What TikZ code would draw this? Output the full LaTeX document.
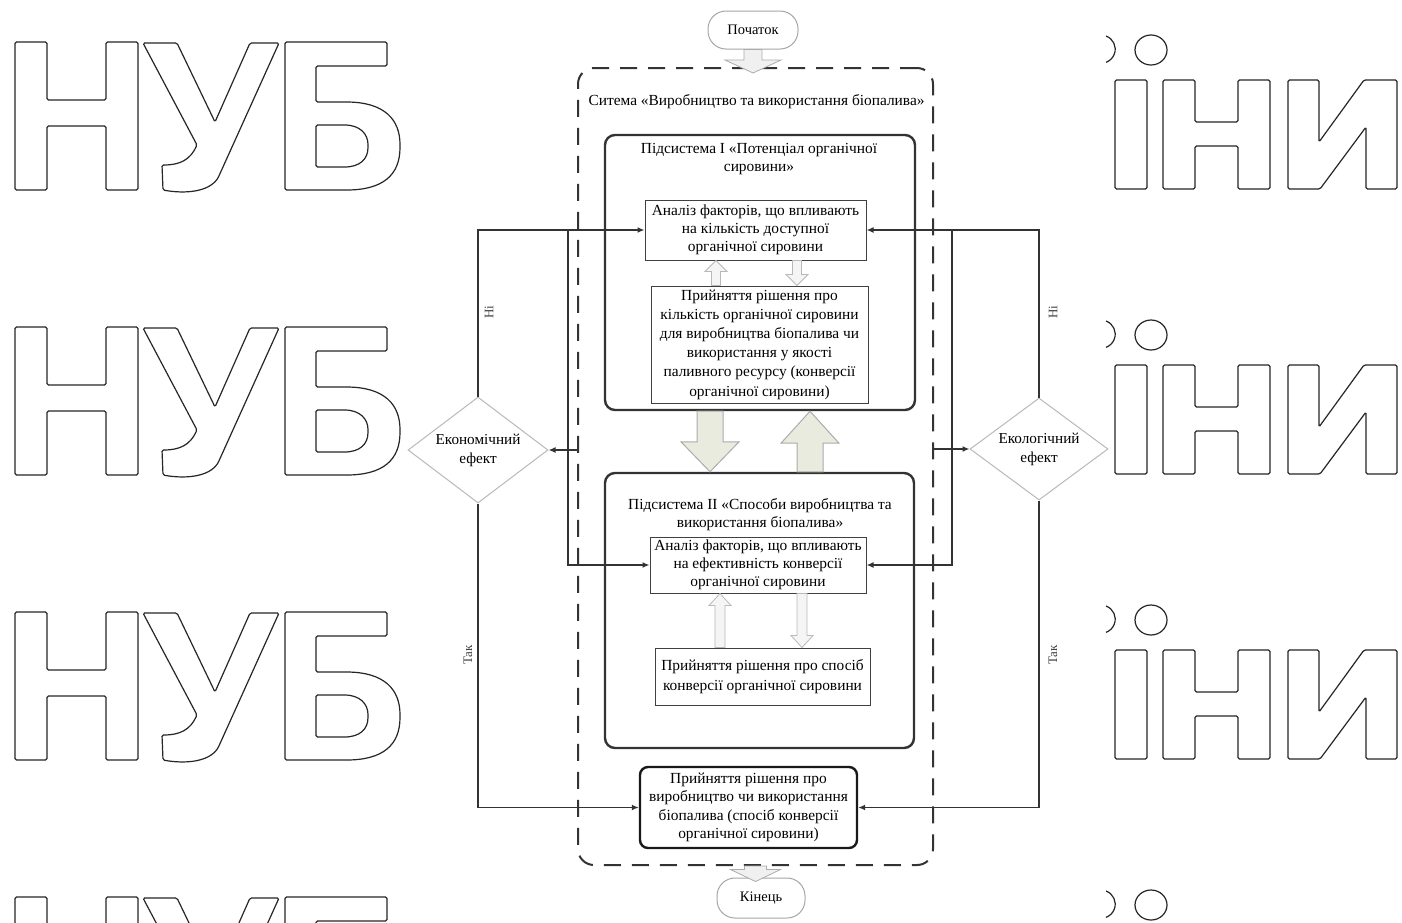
\documentclass[tikz,border=0pt]{standalone}
\usepackage{fontspec}
\setmainfont{Liberation Serif}
\usetikzlibrary{shapes.geometric,arrows.meta,calc}
\newcommand\vbarrow[6]{%
  \path[#1] let \p1=#2, \p2=#3, \n1={sign(\y2-\y1)} in
   ({\x1-#4*0.5pt},\y1) -- ({\x1-#4*0.5pt},{\y2-\n1*#6*1pt}) -- ({\x1-#5*0.5pt},{\y2-\n1*#6*1pt}) -- (\x1,\y2) -- ({\x1+#5*0.5pt},{\y2-\n1*#6*1pt}) -- ({\x1+#4*0.5pt},{\y2-\n1*#6*1pt}) -- ({\x1+#4*0.5pt},\y1) -- cycle;}
\begin{document}
\begin{tikzpicture}[x=1pt,y=-1pt,
  wm/.style={draw=black!85,line width=1.2pt,fill=white,rounded corners=1.5pt},
  wmline/.style={draw=black!85,line width=1.2pt},
  conn/.style={draw=black!80,line width=1.6pt},
  arr/.style={conn,-{Latex[length=7pt,width=6pt]}},
  txt/.style={font=\fontsize{15.4}{18}\selectfont,align=center},
  box/.style={draw=black!75,line width=1pt,fill=white,inner sep=0pt,txt},
  subsys/.style={draw=black!80,line width=2.4pt,rounded corners=10pt,inner sep=0pt},
  term/.style={draw=gray!70,line width=1pt,rounded corners=18pt,inner sep=0pt,font=\fontsize{14.5}{16}\selectfont},
  dia/.style={diamond,aspect=1.35,draw=gray!55,line width=1pt,inner sep=0pt,align=center,font=\fontsize{15.2}{19}\selectfont},
  lbl/.style={font=\fontsize{13}{15}\selectfont,text=black!75},
  barrow/.style={draw=gray!65,fill=gray!12,line width=0.8pt,line join=miter},
  sbarrow/.style={draw=gray!55,fill=gray!8,line width=0.8pt,line join=miter},
  bigarrow/.style={draw=gray!65,fill={rgb,255:red,232;green,235;blue,222},line width=1pt,line join=miter},
]
\useasboundingbox[fill=white] (0,0) rectangle (1402,922);

% watermark letters
\foreach \o in {0,285,570,855}{
 \begin{scope}[yshift=-\o pt]
  % N
  \path[wm] (15,42) -- (47,42) -- (47,100) -- (106,100) -- (106,42) -- (138,42) -- (138,190) -- (106,190) -- (106,126) -- (47,126) -- (47,190) -- (15,190) -- cycle;
  % U
  \path[wm] (143,43) -- (177,43) -- (215,122) -- (250,43) -- (279,43) -- (218,178) .. controls (208,192) and (185,194) .. (163,190) -- (162,165) .. controls (180,165) and (190,160) .. (197,145) -- cycle;
  % B
  \path[wm,even odd rule] (285,42) -- (387,42) -- (387,66) -- (316,66) -- (316,102) -- (345,102) .. controls (385,102) and (400,120) .. (400,146) .. controls (400,175) and (383,190) .. (345,190) -- (285,190) -- cycle
     (316,125) -- (343,125) .. controls (360,125) and (368,134) .. (368,146) .. controls (368,159) and (360,167) .. (343,167) -- (316,167) -- cycle;
  % right block
  \draw[wmline] (1106,36) arc[start angle=-70, end angle=70, radius=14];
  \draw[wmline] (1151,50) ellipse [x radius=16, y radius=15];
  \path[wm] (1115,80) -- (1147,80) -- (1147,189) -- (1115,189) -- cycle;
  \path[wm] (1163,80) -- (1195,80) -- (1195,122) -- (1238,122) -- (1238,80) -- (1270,80) -- (1270,189) -- (1238,189) -- (1238,146) -- (1195,146) -- (1195,189) -- (1163,189) -- cycle;
  \path[wm] (1288,80) -- (1319,80) -- (1319,142) -- (1364,80) -- (1397,80) -- (1397,189) -- (1366,189) -- (1366,127) -- (1320,189) -- (1288,189) -- cycle;
 \end{scope}}

% terminals and containers
\node[term,minimum width=90pt,minimum height=38pt] (start) at (753,30) {Початок};
\node[term,minimum width=88pt,minimum height=40pt] (end) at (761,898) {Кінець};
\node[draw=black!80,line width=2pt,dash pattern=on 17pt off 11pt,rounded corners=16pt,minimum width=355pt,minimum height=797pt,inner sep=0pt] (sys) at (755.5,466.5) {};
\node[txt,anchor=west] (syslbl) at (585,102) {Ситема «Виробництво та використання біопалива»};

\node[subsys,minimum width=310pt,minimum height=275pt] (sub1) at (760,272.5) {};
\node[txt] (t1) at (759,159) {Підсистема І «Потенціал органічної\\сировини»};
\node[box,minimum width=221pt,minimum height=60pt] (A1) at (755.5,230) {Аналіз факторів, що впливають\\на кількість доступної\\органічної сировини};
\node[box,minimum width=217pt,minimum height=117pt,font=\fontsize{15.4}{19.2}\selectfont] (D1) at (759.5,344.5) {Прийняття рішення про\\кількість органічної сировини\\для виробництва біопалива чи\\використання у якості\\паливного ресурсу (конверсії\\органічної сировини)};

\node[subsys,minimum width=309pt,minimum height=275pt] (sub2) at (759.5,610.5) {};
\node[txt] (t2) at (760,515) {Підсистема ІІ «Способи виробництва та\\використання біопалива»};
\node[box,minimum width=216pt,minimum height=56pt] (A2) at (758,565) {Аналіз факторів, що впливають\\на ефективність конверсії\\органічної сировини};
\node[box,minimum width=215pt,minimum height=57pt,font=\fontsize{15.4}{20}\selectfont] (D2) at (762.5,676.5) {Прийняття рішення про спосіб\\конверсії органічної сировини};

\node[box,draw=black!90,line width=2.4pt,rounded corners=8pt,minimum width=217pt,minimum height=81pt,font=\fontsize{15.4}{18.5}\selectfont] (fin) at (748.5,807.5) {Прийняття рішення про\\виробництво чи використання\\біопалива (спосіб конверсії\\органічної сировини)};

\node[dia,minimum width=140pt,minimum height=106pt] (eco) at (478,450) {Економічний\\ефект};
\node[dia,minimum width=138pt,minimum height=102pt] (ecol) at (1039,449) {Екологічний\\ефект};

% block arrows
\vbarrow{barrow}{(start.south)}{($(sys.north)+(0,6)$)}{18}{56}{13}
\vbarrow{barrow}{(sys.south)}{($(end.north)+(0,4)$)}{22}{50}{12}
\vbarrow{sbarrow}{(716,0 |- D1.north)}{(716,0 |- A1.south)}{9}{22}{11}
\vbarrow{sbarrow}{(797,0 |- A1.south)}{(797,0 |- D1.north)}{9}{22}{11}
\vbarrow{bigarrow}{(710,0 |- sub1.south)}{(710,0 |- sub2.north)}{26}{58}{30}
\vbarrow{bigarrow}{(810,0 |- sub2.north)}{(810,0 |- sub1.south)}{26}{58}{32}
\vbarrow{sbarrow}{(720,0 |- D2.north)}{(720,0 |- A2.south)}{10}{22}{12}
\vbarrow{sbarrow}{(802,0 |- A2.south)}{(802,0 |- D2.north)}{10}{22}{12}

% connectors
\coordinate (lj) at (568,0 |- A1.west);
\coordinate (rj) at (952,0 |- A1.east);
\draw[arr] (eco.north) |- (A1.west);
\draw[arr] (lj) |- (A2.west);
\draw[arr] (eco.south) |- (fin.west);
\draw[arr] (sys.west |- eco.east) -- (eco.east);
\draw[arr] (ecol.north) |- (A1.east);
\draw[arr] (rj) |- (A2.east);
\draw[arr] (ecol.south) |- (fin.east);
\draw[arr] (sys.east |- ecol.west) -- (ecol.west);

\node[lbl,rotate=90] (n1) at (489,312) {Ні};
\node[lbl,rotate=90] (y1) at (468,655) {Так};
\node[lbl,rotate=90] (n2) at (1053,312) {Ні};
\node[lbl,rotate=90] (y2) at (1053,655) {Так};
\end{tikzpicture}
\end{document}
